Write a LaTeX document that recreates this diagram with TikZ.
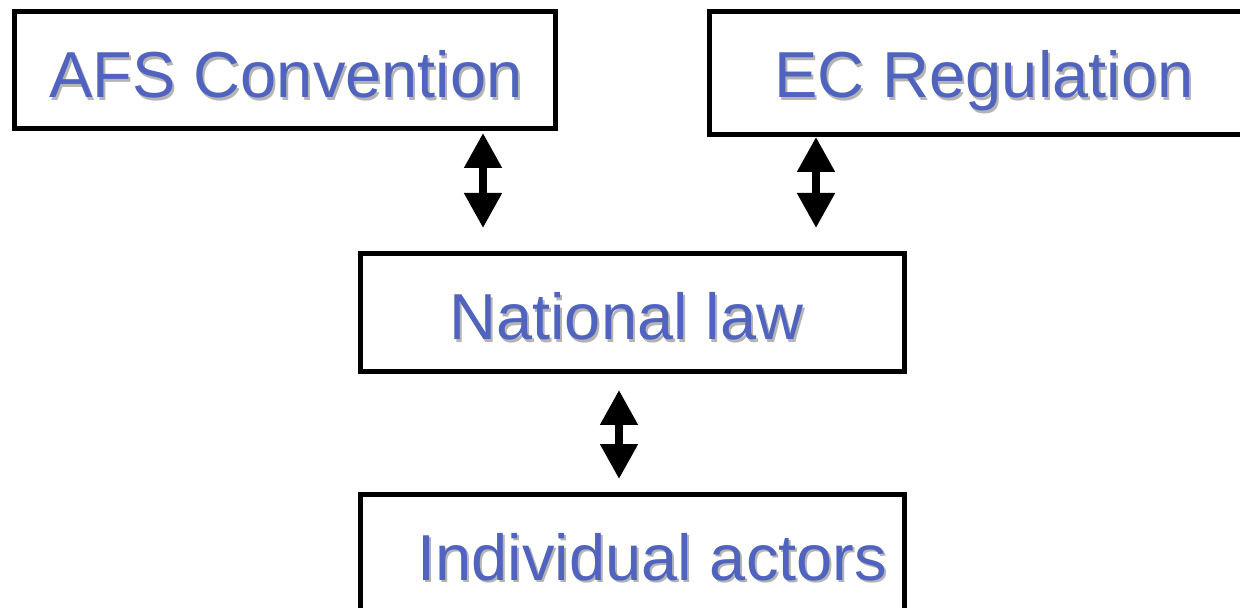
\documentclass[tikz,border=0pt]{standalone}
\usepackage{fontspec}
\setmainfont{Liberation Sans}
\usetikzlibrary{arrows.meta}
\definecolor{titleblue}{HTML}{4F63BF}
\definecolor{shadowgray}{HTML}{B4B4B4}
\newcommand{\shadowed}[1]{\rlap{\hspace{1pt}\raisebox{-1.25pt}{\color{shadowgray}#1}}#1}
\tikzset{
  lawbox/.style={draw,line width=2.5pt,inner sep=0pt},
  lawtext/.style={anchor=base west,inner sep=0pt,text=titleblue,font=\fontsize{32.5}{36}\selectfont},
  dblarrow/.style={line width=4pt,line cap=butt,{Triangle[width=18pt,length=17.5pt]}-{Triangle[width=18pt,length=17.5pt]}}
}
\begin{document}
\begin{tikzpicture}[x=0.5pt,y=-0.5pt]
	\useasboundingbox (0,0) rectangle (1240,608);
	\clip (0,0) rectangle (1240,608);
	% boxes
	\node[lawbox,minimum width=270.5pt,minimum height=58.5pt] (afs) at (285,70) {};
	\node[lawbox,minimum width=275.25pt,minimum height=61.5pt] (ec) at (984.75,73) {};
	\node[lawbox,minimum width=272pt,minimum height=59pt] (nat) at (632.5,312.5) {};
	\node[lawbox,minimum width=272pt,minimum height=59pt] (ind) at (632.5,553.5) {};
	% texts
	\node[lawtext] (afstext) at (49,98) {\shadowed{AFS Convention}};
	\node[lawtext] (ectext) at (774,98) {\shadowed{EC Regulation}};
	\node[lawtext] (nattext) at (449,340) {\shadowed{National law}};
	\node[lawtext] (indtext) at (417,580) {\shadowed{Individual actors}};
	% arrows
	\coordinate (xl) at (483,0);
	\coordinate (xr) at (816,0);
	\coordinate (xm) at (619,0);
	\draw[dblarrow,shorten <=1pt,shorten >=11.5pt] (afs.south -| xl) -- (nat.north -| xl);
	\draw[dblarrow,shorten >=11.5pt] (ec.south -| xr) -- (nat.north -| xr);
	\draw[dblarrow,shorten <=8pt,shorten >=6.5pt] (nat.south -| xm) -- (ind.north -| xm);
\end{tikzpicture}
\end{document}
